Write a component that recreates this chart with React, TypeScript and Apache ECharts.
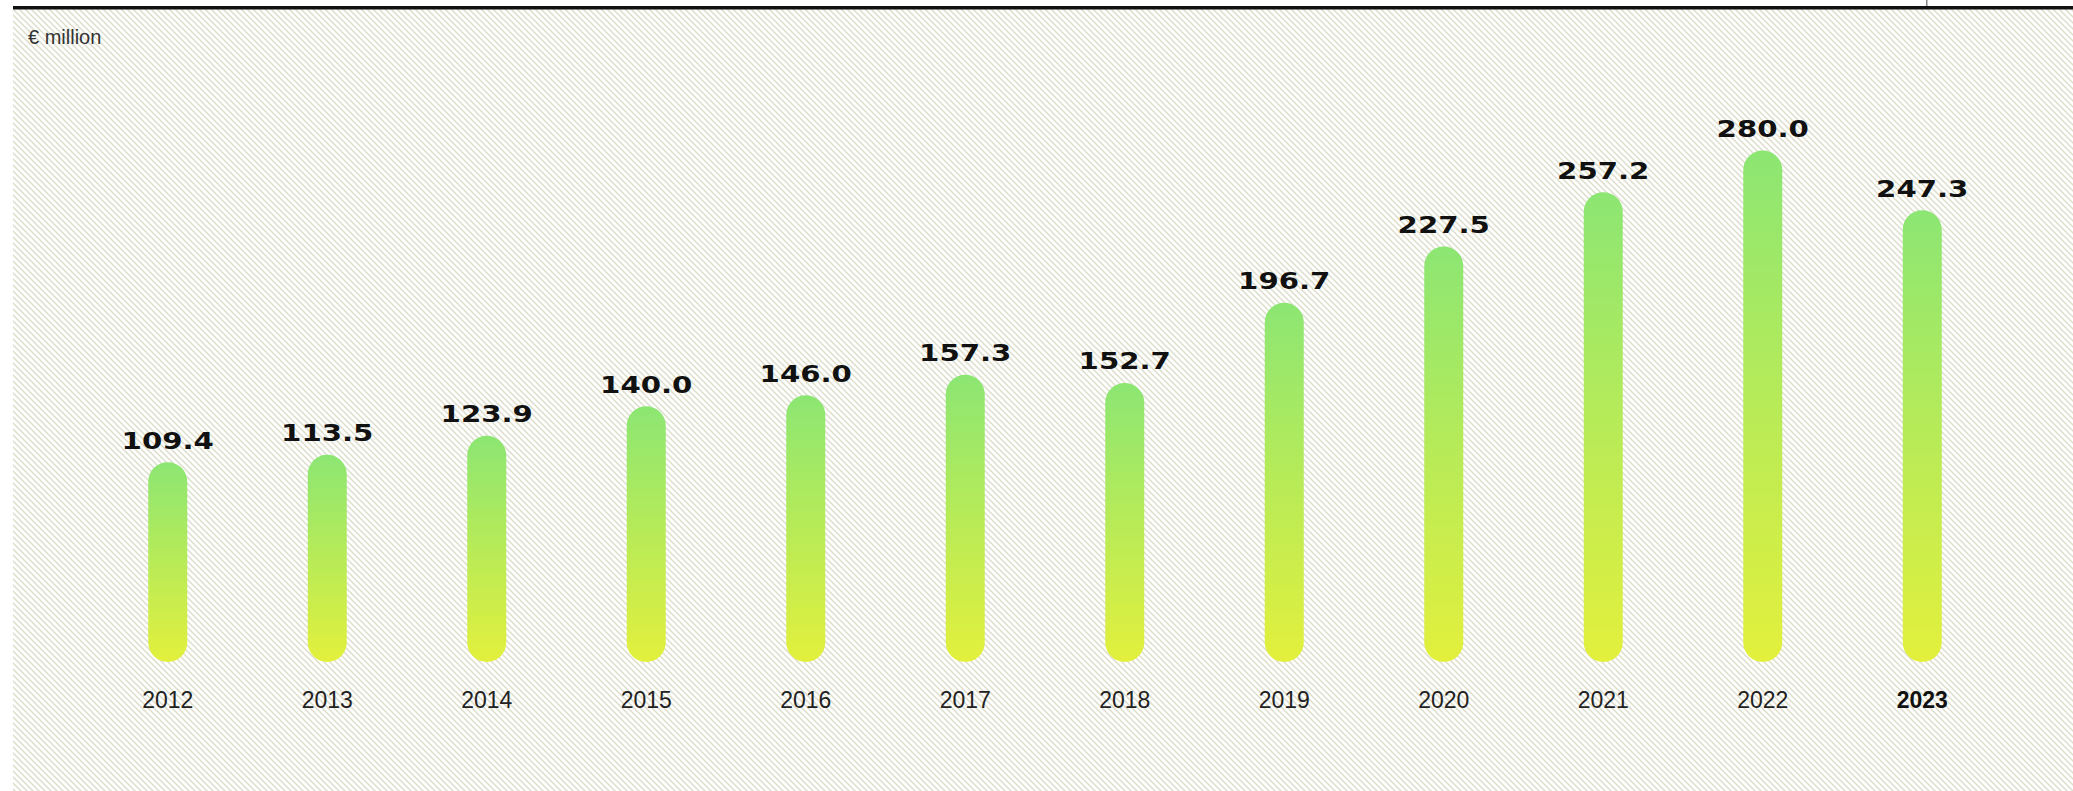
import React, { useEffect, useRef } from "react";
import * as echarts from "echarts";

const categories = ["2012", "2013", "2014", "2015", "2016", "2017", "2018", "2019", "2020", "2021", "2022", "2023"];
const values = [109.4, 113.5, 123.9, 140.0, 146.0, 157.3, 152.7, 196.7, 227.5, 257.2, 280.0, 247.3];
const unitLabel = "€ million";
const highlightCategory = "2023";

const hatchTile =
  "url(\"data:image/svg+xml;utf8,<svg xmlns='http://www.w3.org/2000/svg' width='6' height='6'><path d='M-1,-1 L7,7 M-1,5 L1,7 M5,-1 L7,1' stroke='%23dcddcb' stroke-width='1.5' fill='none'/></svg>\")";

export default function App() {
  const ref = useRef<HTMLDivElement>(null);

  useEffect(() => {
    if (!ref.current) return;
    const chart = echarts.init(ref.current, null, { renderer: "svg" });
    const option: any = {
      animation: false,
      backgroundColor: "transparent",
      title: {
        text: unitLabel,
        left: 28,
        top: 27,
        padding: 0,
        textStyle: { fontFamily: "Liberation Sans", fontWeight: "normal", fontSize: 20, color: "#333" },
      },
      graphic: [
        { type: "rect", shape: { x: 13, y: 6, width: 2060, height: 3.5 }, style: { fill: "#111" } },
        { type: "rect", shape: { x: 1926, y: 0, width: 1.5, height: 6 }, style: { fill: "#888" } },
      ],
      grid: { left: 88, right: 71, top: 114, bottom: 129 },
      xAxis: {
        type: "category",
        data: categories,
        axisLine: { show: false },
        axisTick: { show: false },
        axisLabel: {
          margin: 26,
          fontFamily: "Liberation Sans",
          fontSize: 23,
          color: "#222",
          formatter: (v: string) => (v === highlightCategory ? "{b|" + v + "}" : v),
          rich: { b: { fontFamily: "Liberation Sans", fontSize: 23, fontWeight: "bold", color: "#111" } },
        },
      },
      yAxis: { type: "value", min: 0, max: 300, show: false, splitLine: { show: false } },
      series: [
        {
          type: "bar",
          data: values,
          barWidth: 39,
          itemStyle: {
            borderRadius: 19.5,
            color: new echarts.graphic.LinearGradient(0, 0, 0, 1, [
              { offset: 0, color: "#8ce673" },
              { offset: 1, color: "#e3f03c" },
            ]),
          },
        },
        {
          type: "custom",
          data: values.map((v, i) => [i, v]),
          z: 5,
          renderItem: (params: any, api: any) => {
            const pt = api.coord([api.value(0), api.value(1)]);
            return {
              type: "text",
              x: pt[0],
              y: pt[1] - 10,
              scaleX: 1.27,
              style: {
                text: Number(api.value(1)).toFixed(1),
                fontFamily: "DejaVu Sans",
                fontWeight: "bold",
                fontSize: 23,
                fill: "#111",
                align: "center",
                verticalAlign: "bottom",
              },
            };
          },
        },
      ],
    };
    chart.setOption(option);
    return () => chart.dispose();
  }, []);

  return (
    <div style={{ position: "absolute", left: 0, top: 0, width: 2073, height: 791, background: "#fff", overflow: "hidden" }}>
      <div
        style={{
          position: "absolute",
          left: 13,
          top: 9,
          right: 0,
          bottom: 0,
          backgroundImage: hatchTile,
          backgroundRepeat: "repeat",
          backgroundSize: "6px 6px",
        }}
      />
      <div ref={ref} style={{ position: "absolute", left: 0, top: 0, width: 2073, height: 791 }} />
    </div>
  );
}
